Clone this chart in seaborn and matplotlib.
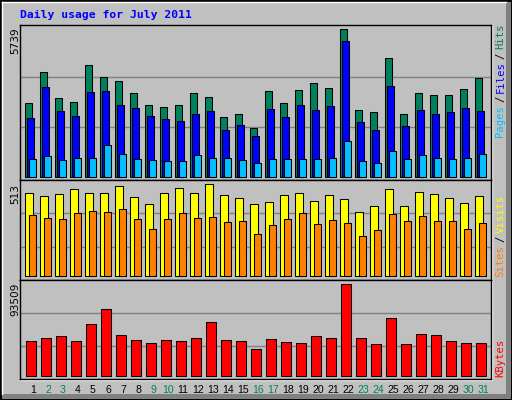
import numpy as np
import pandas as pd
import matplotlib
matplotlib.use('Agg')
import matplotlib.pyplot as plt
from matplotlib.patches import Rectangle
import seaborn as sns

# daily stats, July 2011
days = np.arange(1, 32)
hits = [2864, 4069, 3058, 2903, 4341, 3874, 3719, 3253, 2786, 2709, 2786, 3253, 3097, 2320, 2437, 1893,
        3330, 2864, 3369, 3641, 3447, 5739, 2592, 2514, 4613, 2437, 3253, 3175, 3175, 3408, 3836]
files = [2281, 3486, 2553, 2359, 3291, 3330, 2786, 2670, 2359, 2242, 2165, 2437, 2553, 1815, 2009, 1582,
         2631, 2320, 2786, 2592, 2747, 5273, 2126, 1815, 3525, 1970, 2592, 2437, 2514, 2670, 2553]
pages = [688, 804, 649, 727, 727, 1232, 882, 688, 649, 610, 610, 843, 727, 727, 649, 532,
         688, 688, 688, 688, 727, 1387, 610, 532, 999, 688, 843, 727, 688, 727, 882]
visits = [463, 446, 457, 485, 463, 463, 502, 440, 401, 463, 491, 463, 513, 451, 435, 401,
          412, 451, 463, 418, 451, 429, 356, 390, 485, 390, 468, 457, 435, 407, 446]
sites = [340, 323, 317, 351, 362, 356, 373, 317, 261, 317, 351, 323, 328, 300, 306, 233,
         284, 317, 351, 289, 312, 295, 222, 256, 345, 306, 334, 306, 306, 261, 295]
kbytes = [35130, 38203, 40251, 35130, 52541, 67904, 41275, 36154, 33082, 36154, 35130, 38203, 54590,
          36154, 35130, 26936, 37178, 34106, 33082, 40251, 38203, 93509, 38203, 32058, 58686, 32058,
          42300, 41275, 35130, 33082, 33082]
weekend = [2, 3, 9, 10, 16, 17, 23, 24, 30, 31]

df = pd.DataFrame({'day': days, 'hits': hits, 'files': files, 'pages': pages,
                   'visits': visits, 'sites': sites, 'kbytes': kbytes})

GRAY = '#c0c0c0'
DARK = '#808080'
c_hits, c_files, c_pages = '#00805c', '#0000ff', '#00c0ff'
c_visits, c_sites, c_kb = '#ffff00', '#ff8000', '#ff0000'

W, H = 512, 400
fig = plt.figure(figsize=(W / 100, H / 100), dpi=100, facecolor=GRAY)

# frame
bg = fig.add_axes([0, 0, 1, 1])
bg.set_xlim(0, W)
bg.set_ylim(H, 0)
bg.axis('off')
bg.add_patch(Rectangle((W - 6, 0), 6, H, color=DARK, lw=0))
bg.add_patch(Rectangle((0, H - 6), W, 6, color=DARK, lw=0))
bg.add_patch(Rectangle((0.5, 0.5), W - 1, H - 1, fill=False, ec='black', lw=1.4))
bg.plot([2, 2], [2, H - 6], color='white', lw=1)
bg.plot([2, W - 6], [2, 2], color='white', lw=1)
bg.plot([20, 492, 492], [380, 380, 25], color='white', lw=1)

X0, X1 = 20, 491
SP = 15.0       # px per day
C1 = 30.8       # px centre of day 1
xlim = ((X0 - C1) / SP + 1, (X1 - C1) / SP + 1)


def panel(top, bottom, base, peak, vmax, grid_px):
    ax = fig.add_axes([X0 / W, 1 - bottom / H, (X1 - X0) / W, (bottom - top) / H])
    ax.set_facecolor(GRAY)
    s = vmax / (base - peak)
    ax.set_ylim(-(bottom - base) * s, (base - top) * s)
    for g in grid_px:
        ax.axhline((base - g) * s, color=DARK, lw=1, zorder=0.5)
    for sp in ax.spines.values():
        sp.set_color('black')
        sp.set_linewidth(1)
    return ax


def bars(ax, col, off, w, color):
    sns.barplot(x=df['day'] + off / SP, y=df[col], native_scale=True, width=w / SP,
                color=color, saturation=1, edgecolor='black', linewidth=0.75,
                errorbar=None, ax=ax)


ax1 = panel(25, 180, 177, 29.3, max(hits), [77, 127])
bars(ax1, 'hits', -2, 7, c_hits)
bars(ax1, 'files', 0, 7, c_files)
bars(ax1, 'pages', 2, 7, c_pages)

ax2 = panel(180, 280, 276, 184.3, max(visits), [213.3, 246.7])
bars(ax2, 'visits', -1.5, 8, c_visits)
bars(ax2, 'sites', 2, 7, c_sites)

ax3 = panel(280, 379, 375.7, 284.3, max(kbytes), [313.3, 346])
bars(ax3, 'kbytes', 0.5, 10, c_kb)

for ax in (ax1, ax2, ax3):
    ax.set_xlim(*xlim)
    ax.set_xlabel('')
    ax.set_ylabel('')
    ax.set_yticks([])
    ax.set_xticks([])

ax3.set_xticks(days + 2.2 / SP)
ax3.set_xticklabels([str(d) for d in days], fontsize=7.6, family='Liberation Sans')
ax3.tick_params(axis='x', length=0, pad=4.5)
for d, lab in zip(days, ax3.get_xticklabels()):
    lab.set_color(c_hits if d in weekend else 'black')

# title and max labels
fig.text(20 / W, 1 - 15 / H, 'Daily usage for July 2011', color='#0000ff', family='DejaVu Sans Mono',
         weight='bold', fontsize=8.2, ha='left', va='center')
for val, ytop in [(max(hits), 27), (max(visits), 184), (max(kbytes), 283)]:
    fig.text(15.3 / W, 1 - ytop / H, str(val), rotation=90, ha='center', va='top',
             fontsize=7.6, family='DejaVu Sans', color='black')


def side_label(parts, ybottom):
    # stack coloured pieces upward, each one starting just above the previous
    prev = fig.text(500.5 / W, 1 - ybottom / H, parts[0][0], rotation=90, ha='center', va='bottom',
                    color=parts[0][1], family='DejaVu Sans Mono', fontsize=7.6)
    for txt, col in parts[1:]:
        prev = bg.annotate(txt, xy=(0.5, 1), xycoords=prev, xytext=(0, 2), textcoords='offset points',
                           rotation=90, ha='center', va='bottom', color=col,
                           family='DejaVu Sans Mono', fontsize=7.6, annotation_clip=False)


side_label([('Pages', c_pages), ('/', 'black'), ('Files', c_files), ('/', 'black'), ('Hits', c_hits)], 137)
side_label([('Sites', c_sites), ('/', 'black'), ('Visits', c_visits)], 277)
side_label([('KBytes', c_kb)], 377)

fig.savefig('out.png', dpi=100, facecolor=GRAY)
